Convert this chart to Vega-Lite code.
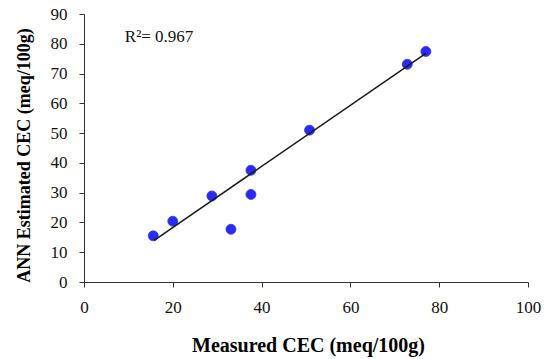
{
  "$schema": "https://vega.github.io/schema/vega-lite/v6.json",
  "width": 444,
  "height": 268,
  "autosize": "none",
  "padding": {"left": 84, "top": 14, "right": 19, "bottom": 77},
  "background": "white",
  "config": {
    "view": {"stroke": null},
    "font": "Liberation Serif",
    "axis": {
      "grid": false,
      "domainColor": "#333333",
      "tickColor": "#333333",
      "tickSize": 5,
      "labelFlush": false,
      "labelOverlap": false,
      "labelFont": "Liberation Serif",
      "labelFontSize": 17,
      "labelColor": "#111111",
      "titleFont": "Liberation Serif",
      "titleFontWeight": "bold",
      "titleColor": "#000000"
    }
  },
  "datasets": {
    "points": [
      {"measured": 15.6, "estimated": 15.5},
      {"measured": 20.0, "estimated": 20.4},
      {"measured": 28.8, "estimated": 28.9},
      {"measured": 33.1, "estimated": 17.7},
      {"measured": 37.6, "estimated": 37.5},
      {"measured": 37.6, "estimated": 29.4},
      {"measured": 50.8, "estimated": 51.0},
      {"measured": 72.8, "estimated": 73.1},
      {"measured": 77.0, "estimated": 77.4}
    ],
    "trend": [
      {"measured": 15.8, "estimated": 14.0},
      {"measured": 77.0, "estimated": 76.8}
    ],
    "note": [
      {"measured": 9.2, "estimated": 82.3, "label": "R²= 0.967"}
    ]
  },
  "encoding": {
    "x": {"field": "measured", "type": "quantitative",
      "scale": {"domain": [0, 100], "nice": false, "zero": true},
      "axis": {"values": [0, 20, 40, 60, 80, 100], "title": "Measured CEC (meq/100g)", "labelPadding": 12,
        "titleFontSize": 20, "titleX": 224, "titleY": 63, "titleBaseline": "middle", "titleAlign": "center"}},
    "y": {"field": "estimated", "type": "quantitative",
      "scale": {"domain": [0, 90], "nice": false, "zero": true},
      "axis": {"values": [0, 10, 20, 30, 40, 50, 60, 70, 80, 90], "tickCount": 10, "labelBound": false, "title": "ANN Estimated CEC (meq/100g)", "labelPadding": 12,
        "titleFontSize": 18, "titleX": -60, "titleY": 141, "titleBaseline": "middle", "titleAlign": "center", "titleAngle": -90}}
  },
  "layer": [
    {
      "data": {"name": "points"},
      "mark": {"type": "circle", "size": 100, "color": "#2a2af5", "opacity": 1, "stroke": "#3a3ad8", "strokeWidth": 0.8}
    },
    {
      "data": {"name": "trend"},
      "mark": {"type": "line", "color": "#1a1a1a", "strokeWidth": 1.5}
    },
    {
      "data": {"name": "note"},
      "mark": {"type": "text", "align": "left", "baseline": "middle", "fontSize": 17, "font": "Liberation Serif", "color": "#111111"},
      "encoding": {
        "text": {"field": "label"}
      }
    }
  ]
}
